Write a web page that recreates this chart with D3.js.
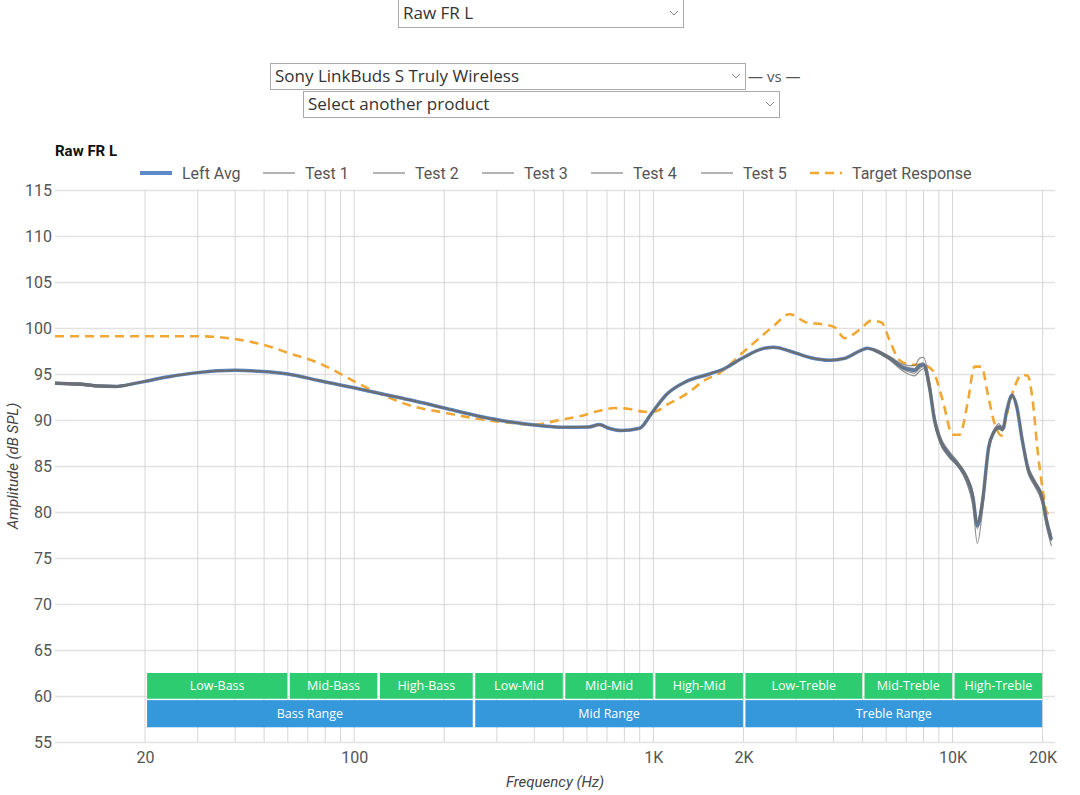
<!DOCTYPE html>
<html>
<head>
<meta charset="utf-8">
<script src="https://cdn.jsdelivr.net/npm/d3@7"></script>
<style>
  body { margin: 0; background: #fff; }
  svg { display: block; }
</style>
</head>
<body>
<div id="chart"></div>
<script>
// Chart data
var targetFreq = [10, 14, 20, 30, 40, 45, 52, 60, 76, 89, 100, 121, 153, 200, 262, 330, 400, 485, 566, 660, 741, 831, 933, 1000, 1131, 1300, 1481, 1662, 2000, 2262, 2540, 2850, 3250, 3675, 4030, 4355, 4887, 5360, 5788, 6155, 6648, 7348, 7937, 8573, 9260, 10000, 10555, 11224, 11847, 12503, 13100, 13820, 14585, 15157, 16120, 17015, 17820, 18514, 19241, 20000, 20627, 21437];
var targetDb = [99.1, 99.1, 99.1, 99.1, 98.8, 98.5, 98.0, 97.3, 96.2, 95.1, 94.2, 92.9, 91.6, 90.8, 90.1, 89.7, 89.5, 90.0, 90.4, 91.0, 91.3, 91.2, 90.9, 90.9, 91.8, 92.9, 94.3, 95.1, 97.4, 98.9, 100.3, 101.5, 100.6, 100.4, 100.1, 98.9, 99.8, 100.8, 100.6, 98.7, 96.5, 96.0, 96.0, 95.4, 92.2, 88.4, 88.4, 91.8, 95.8, 95.8, 92.9, 89.6, 88.3, 90.5, 93.6, 94.9, 94.8, 92.2, 86.7, 82.5, 80.0, 79.6];

var measFreq = [10, 12, 14, 16, 18, 20, 24, 30, 40, 48, 60, 76, 100, 121, 153, 200, 262, 330, 415, 503, 610, 660, 710, 780, 900, 985, 1100, 1290, 1540, 1730, 2000, 2350, 2530, 2850, 3330, 3880, 4360, 4890, 5180, 5480, 6170, 6920, 7460, 7760, 8000, 8380, 8700, 9100, 9700, 10500, 11100, 11700, 12100, 12600, 13200, 13700, 14300, 14700, 15200, 15800, 16400, 17100, 17900, 18800, 19900, 20600, 21400];
var leftAvg = [94.0, 93.9, 93.7, 93.65, 93.9, 94.2, 94.7, 95.15, 95.4, 95.3, 95.0, 94.3, 93.5, 92.9, 92.2, 91.3, 90.4, 89.8, 89.4, 89.2, 89.25, 89.5, 89.1, 88.85, 89.1, 90.7, 92.7, 94.2, 95.0, 95.6, 96.8, 97.8, 97.9, 97.5, 96.8, 96.5, 96.7, 97.5, 97.8, 97.6, 96.7, 95.6, 95.4, 95.9, 96.0, 93.5, 90.0, 87.8, 86.3, 85.0, 83.8, 81.6, 78.5, 81.2, 87.0, 88.6, 89.2, 89.0, 91.1, 92.7, 91.4, 87.8, 84.6, 83.2, 81.6, 79.1, 77.0];
var test1 = [94.1, 94.0, 93.8, 93.75, 93.95, 94.2, 94.7, 95.15, 95.4, 95.3, 95.0, 94.3, 93.5, 92.9, 92.2, 91.3, 90.4, 89.8, 89.4, 89.2, 89.25, 89.5, 89.1, 88.85, 89.1, 90.7, 92.7, 94.2, 95.0, 95.6, 96.8, 97.8, 97.9, 97.5, 96.8, 96.5, 96.7, 97.5, 97.8, 97.5, 96.5, 95.2, 94.8, 95.3, 95.6, 93.0, 89.6, 87.4, 86.0, 84.8, 83.3, 80.6, 76.6, 80.2, 86.6, 88.5, 89.4, 89.3, 91.2, 92.8, 91.5, 87.6, 84.2, 82.8, 81.0, 78.4, 76.3];
var test2 = [93.9, 93.8, 93.6, 93.55, 93.85, 94.15, 94.7, 95.15, 95.4, 95.3, 95.0, 94.3, 93.5, 92.9, 92.2, 91.3, 90.4, 89.8, 89.4, 89.2, 89.3, 89.5, 89.1, 88.9, 89.1, 90.7, 92.7, 94.2, 95.0, 95.6, 96.8, 97.8, 97.9, 97.5, 96.8, 96.5, 96.7, 97.5, 97.8, 97.7, 96.9, 96.0, 95.9, 96.7, 96.8, 94.2, 90.6, 88.2, 86.7, 85.3, 84.1, 82.1, 79.0, 81.8, 87.3, 88.8, 89.6, 89.1, 91.0, 92.6, 91.3, 88.1, 85.0, 83.5, 81.9, 79.5, 77.5];
var test3 = [94.0, 93.9, 93.7, 93.65, 93.9, 94.2, 94.7, 95.15, 95.4, 95.3, 95.0, 94.3, 93.5, 92.9, 92.2, 91.3, 90.4, 89.8, 89.4, 89.2, 89.2, 89.4, 89.1, 88.8, 89.1, 90.7, 92.7, 94.2, 95.0, 95.6, 96.8, 97.8, 97.9, 97.5, 96.8, 96.5, 96.7, 97.5, 97.8, 97.6, 96.8, 95.8, 95.6, 96.1, 96.2, 93.8, 90.3, 88.0, 86.5, 85.2, 84.0, 81.9, 78.8, 81.5, 87.1, 88.7, 89.1, 88.9, 91.0, 92.7, 91.4, 87.9, 84.8, 83.3, 81.8, 79.3, 77.2];
var test4 = [93.9, 93.8, 93.6, 93.55, 93.85, 94.2, 94.7, 95.15, 95.4, 95.3, 95.0, 94.3, 93.5, 92.9, 92.2, 91.3, 90.4, 89.8, 89.4, 89.2, 89.25, 89.5, 89.1, 88.85, 89.1, 90.7, 92.7, 94.2, 95.0, 95.6, 96.8, 97.8, 97.9, 97.5, 96.8, 96.5, 96.7, 97.5, 97.8, 97.5, 96.6, 95.4, 95.1, 95.6, 95.8, 93.3, 89.8, 87.6, 86.1, 84.9, 83.6, 81.3, 78.2, 80.9, 86.8, 88.5, 89.0, 88.8, 91.1, 92.6, 91.3, 87.7, 84.5, 83.0, 81.4, 78.9, 76.8];
var test5 = [94.1, 94.0, 93.8, 93.75, 93.95, 94.25, 94.7, 95.15, 95.4, 95.3, 95.0, 94.3, 93.5, 92.9, 92.2, 91.3, 90.4, 89.8, 89.4, 89.2, 89.25, 89.5, 89.1, 88.85, 89.1, 90.7, 92.7, 94.2, 95.0, 95.6, 96.8, 97.8, 97.9, 97.5, 96.8, 96.5, 96.7, 97.5, 97.8, 97.6, 96.7, 95.6, 95.3, 95.8, 96.0, 93.5, 90.1, 87.9, 86.4, 85.1, 83.9, 81.7, 78.9, 81.4, 87.1, 88.6, 89.3, 89.0, 91.1, 92.8, 91.5, 87.9, 84.7, 83.2, 81.6, 79.0, 76.9];

var legendNames = ['Left Avg', 'Test 1', 'Test 2', 'Test 3', 'Test 4', 'Test 5', 'Target Response'];
var yTicks = [55, 60, 65, 70, 75, 80, 85, 90, 95, 100, 105, 110, 115];
var xGrid = [20, 30, 40, 50, 60, 70, 80, 90, 100, 200, 300, 400, 500, 600, 700, 800, 900, 1000, 2000, 3000, 4000, 5000, 6000, 7000, 8000, 9000, 10000, 20000];
var xTickValues = [20, 100, 1000, 2000, 10000, 20000];
var xTickLabels = ['20', '100', '1K', '2K', '10K', '20K'];

var subBands = ['Low-Bass', 'Mid-Bass', 'High-Bass', 'Low-Mid', 'Mid-Mid', 'High-Mid', 'Low-Treble', 'Mid-Treble', 'High-Treble'];
var subBandEdges = [20, 60, 120, 250, 500, 1000, 2000, 5000, 10000, 20000];
var rangeBands = ['Bass Range', 'Mid Range', 'Treble Range'];
var rangeBandEdges = [20, 250, 2000, 20000];

// Layout
var width = 1080, height = 795;
var margin = {top: 190, right: 25, bottom: 53, left: 55};
var plotW = width - margin.left - margin.right,
    plotH = height - margin.top - margin.bottom;

var svg = d3.select('#chart').append('svg')
    .attr('width', width)
    .attr('height', height)
    .style('font-family', 'Roboto, sans-serif');

// Dropdowns at the top
function dropdown(x, y, w, h, label) {
    var g = svg.append('g').attr('transform', 'translate(' + x + ',' + y + ')');
    g.append('rect')
        .attr('x', 0.5).attr('y', 0.5)
        .attr('width', w).attr('height', h)
        .attr('fill', '#fff')
        .attr('stroke', '#a9a9a9');
    g.append('text')
        .attr('x', 5).attr('y', h / 2 + 6)
        .style('font-family', '"Open Sans", sans-serif')
        .style('font-size', '17px')
        .attr('fill', '#333')
        .text(label);
    g.append('path')
        .attr('d', 'M' + (w - 13) + ',' + (h / 2 - 2) + 'l4,4l4,-4')
        .attr('fill', 'none')
        .attr('stroke', '#888')
        .attr('stroke-width', 1);
}
dropdown(398, -1, 285, 28, 'Raw FR L');
dropdown(270, 63, 475, 26, 'Sony LinkBuds S Truly Wireless');
dropdown(303, 91, 476, 26, 'Select another product');
svg.append('text')
    .attr('x', 748).attr('y', 82)
    .style('font-family', '"Open Sans", sans-serif')
    .style('font-size', '15px')
    .attr('fill', '#555')
    .text('— vs —');

// Chart title
svg.append('text')
    .attr('x', 55).attr('y', 156)
    .style('font-size', '15px')
    .style('font-weight', 'bold')
    .attr('fill', '#111')
    .text('Raw FR L');

var chart = svg.append('g')
    .attr('transform', 'translate(' + margin.left + ',' + margin.top + ')');

// Scales
var x = d3.scaleLog().domain([10, 22000]).range([0, plotW]);
var y = d3.scaleLinear().domain([55, 115]).range([plotH, 0]);

// Horizontal grid + y labels
var yAxis = d3.axisLeft(y).tickValues(yTicks).tickSize(-plotW).tickSizeOuter(0).tickPadding(3);
var yG = chart.append('g').call(yAxis);
yG.select('.domain').remove();
yG.selectAll('line').attr('stroke', '#e2e2e2').attr('stroke-width', 1.5);
yG.selectAll('text')
    .style('font-size', '16px')
    .style('font-family', 'Roboto, sans-serif')
    .attr('fill', '#555');

// Vertical grid
chart.append('g').selectAll('line')
    .data(xGrid)
    .enter()
    .append('line')
        .attr('x1', function(d) { return x(d); })
        .attr('x2', function(d) { return x(d); })
        .attr('y1', 0)
        .attr('y2', plotH)
        .attr('stroke', '#d6d6d6')
        .attr('stroke-width', 1);

// X tick labels
var xAxis = d3.axisBottom(x).tickValues(xTickValues).tickSize(0).tickPadding(10)
    .tickFormat(function(d, i) { return xTickLabels[i]; });
var xG = chart.append('g').attr('transform', 'translate(0,' + plotH + ')').call(xAxis);
xG.select('.domain').remove();
xG.selectAll('text')
    .style('font-size', '16px')
    .style('font-family', 'Roboto, sans-serif')
    .attr('fill', '#555');

// Axis titles
svg.append('text')
    .attr('transform', 'translate(18,' + (margin.top + plotH / 2) + ') rotate(-90)')
    .attr('text-anchor', 'middle')
    .style('font-size', '15px')
    .style('font-style', 'italic')
    .attr('fill', '#444')
    .text('Amplitude (dB SPL)');
svg.append('text')
    .attr('x', 555).attr('y', 787)
    .attr('text-anchor', 'middle')
    .style('font-size', '15px')
    .style('font-style', 'italic')
    .attr('fill', '#444')
    .text('Frequency (Hz)');

// Frequency band boxes
function bandRow(names, edges, top, bottom, color) {
    var g = chart.append('g');
    names.forEach(function(name, i) {
        var x0 = x(edges[i]) + 2, x1 = x(edges[i + 1]) - 0.5;
        g.append('rect')
            .attr('x', x0).attr('y', y(top))
            .attr('width', x1 - x0).attr('height', y(bottom) - y(top))
            .attr('fill', color);
        g.append('text')
            .attr('x', (x0 + x1) / 2)
            .attr('y', (y(top) + y(bottom)) / 2 + 4.5)
            .attr('text-anchor', 'middle')
            .style('font-family', '"Open Sans", sans-serif')
            .style('font-size', '12.5px')
            .attr('fill', '#fff')
            .text(name);
    });
}
bandRow(subBands, subBandEdges, 62.5, 59.7, '#2ecc71');
bandRow(rangeBands, rangeBandEdges, 59.55, 56.6, '#3498db');

// Lines
var line = d3.line()
    .curve(d3.curveMonotoneX)
    .x(function(d) { return x(d[0]); })
    .y(function(d) { return y(d[1]); });

function pairs(freqs, vals) {
    return freqs.map(function(f, i) { return [f, vals[i]]; });
}

chart.append('path')
    .attr('d', line(pairs(targetFreq, targetDb)))
    .attr('fill', 'none')
    .attr('stroke', '#f0a733')
    .attr('stroke-width', 2.6)
    .attr('stroke-dasharray', '9,6');

chart.append('path')
    .attr('d', line(pairs(measFreq, leftAvg)))
    .attr('fill', 'none')
    .attr('stroke', '#5c82b8')
    .attr('stroke-width', 3.5);

[test5, test4, test3, test2, test1].forEach(function(t) {
    chart.append('path')
        .attr('d', line(pairs(measFreq, t)))
        .attr('fill', 'none')
        .attr('stroke', '#6e6e6e')
        .attr('stroke-opacity', 0.75)
        .attr('stroke-width', 1.2);
});

// Legend
var legendTextX = [182, 305, 415, 524, 633, 743, 852];
var legend = svg.append('g');
legendNames.forEach(function(name, i) {
    var tx = legendTextX[i], ly = 173;
    var l = legend.append('line')
        .attr('x1', tx - 42).attr('x2', tx - 10)
        .attr('y1', ly).attr('y2', ly);
    if (i === 0) {
        l.attr('stroke', '#5b8bc9').attr('stroke-width', 4);
    } else if (i === legendNames.length - 1) {
        l.attr('stroke', '#f0a733').attr('stroke-width', 2.6).attr('stroke-dasharray', '9,6');
    } else {
        l.attr('stroke', '#b4b4b4').attr('stroke-width', 2);
    }
    legend.append('text')
        .attr('x', tx).attr('y', ly + 6)
        .style('font-size', '16px')
        .attr('fill', '#555')
        .text(name);
});
</script>
</body>
</html>
